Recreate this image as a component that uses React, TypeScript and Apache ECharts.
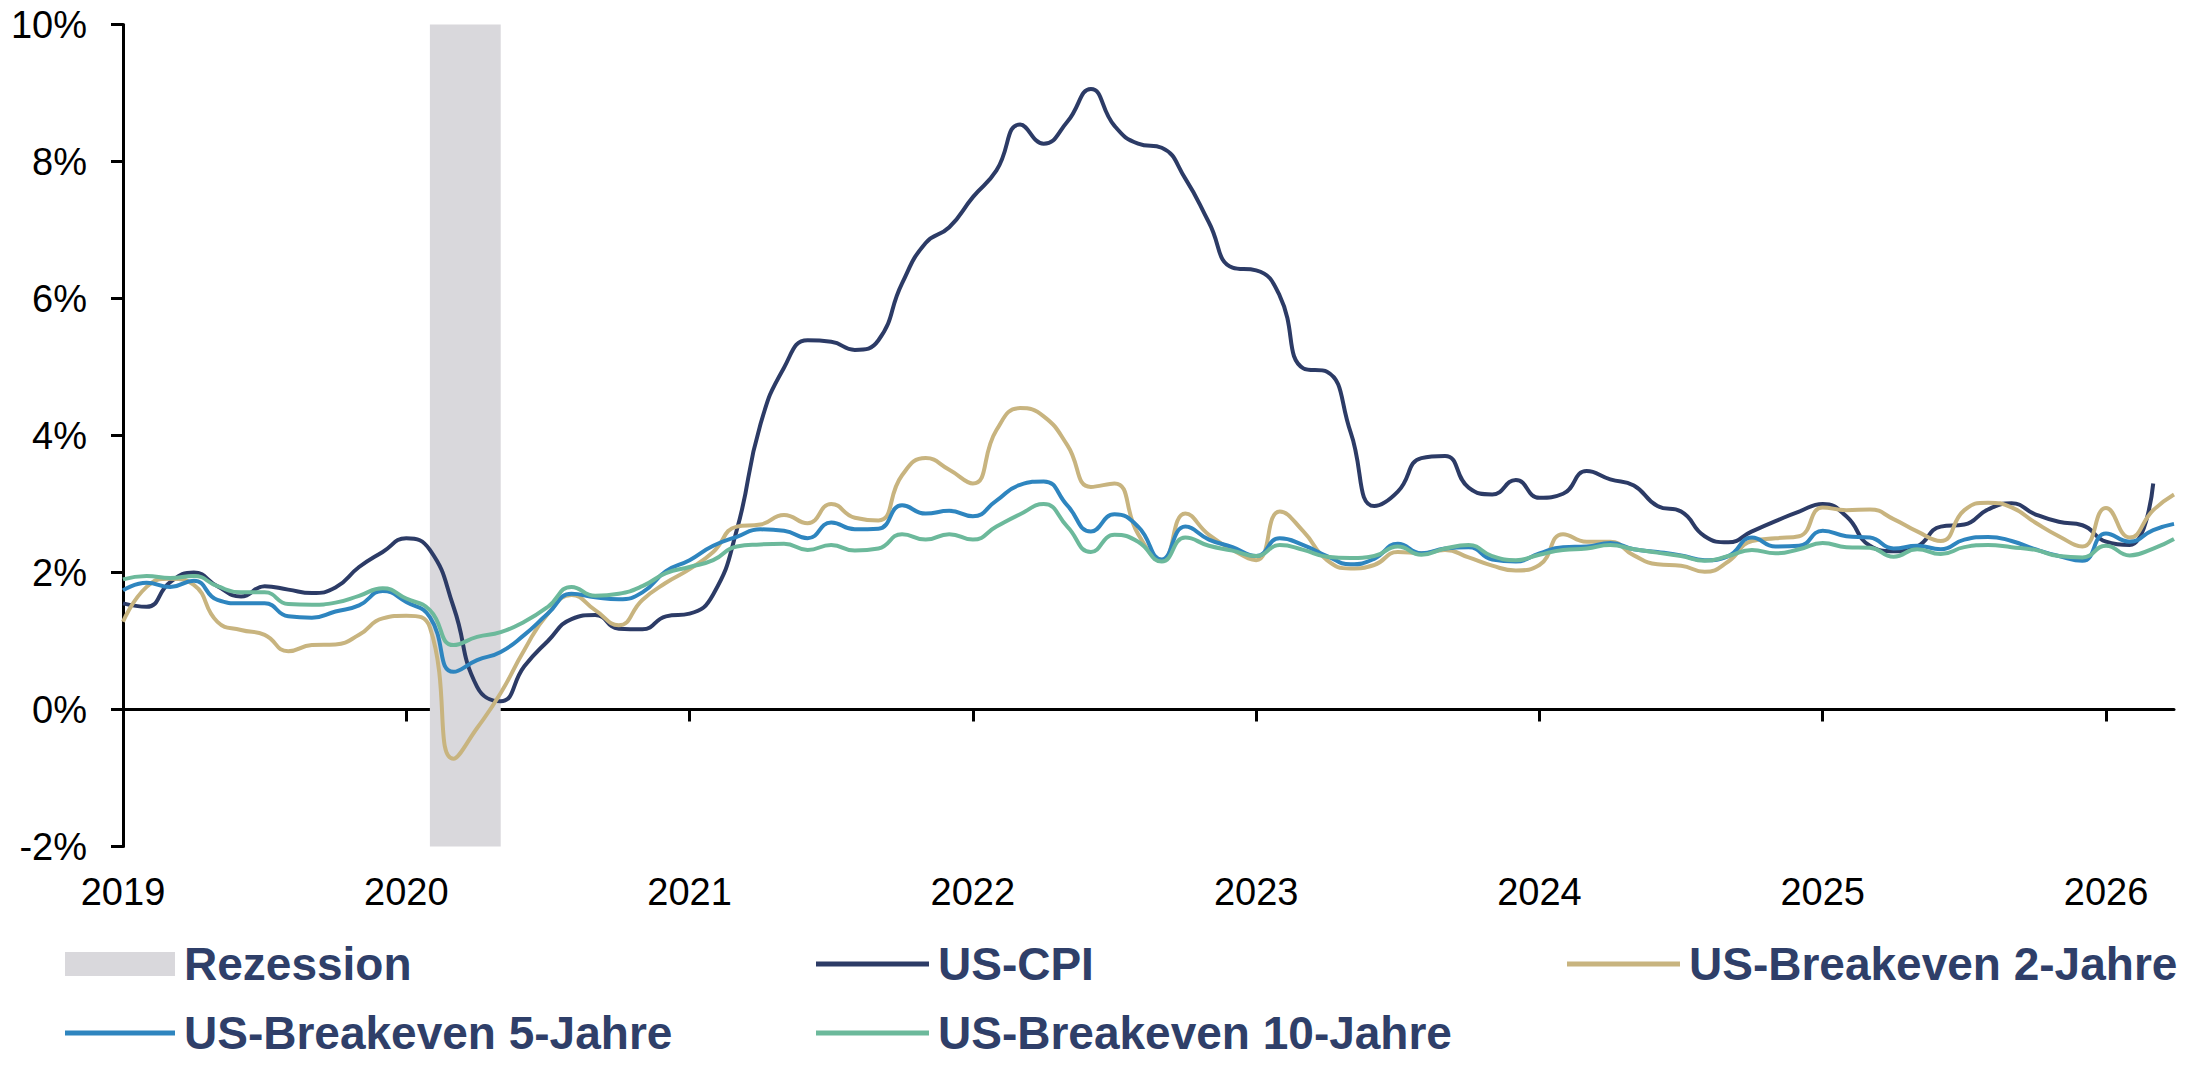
import { useEffect, useRef } from 'react';
import * as echarts from 'echarts';

const FONT = '"Liberation Sans", Arial, Helvetica, sans-serif';

// Colours
const NAVY = '#2C3B66';
const TAN = '#C8B47F';
const BLUE = '#2E85BF';
const GREEN = '#6CB99B';
const RECESSION_GREY = '#D9D8DC';
const LEGEND_TEXT = '#2F3F69';

// Axes
const firstYear = 2019;
const axisEnd = 2026.24;
const yearLabels = [2019, 2020, 2021, 2022, 2023, 2024, 2025, 2026];
const yearTicks = [2020, 2021, 2022, 2023, 2024, 2025, 2026];
const yMin = -2;
const yMax = 10;
const yStep = 2;

// Recession: February to April 2020
const recessionStart = 2020 + 1 / 12;
const recessionEnd = 2020 + 4 / 12;

// Monthly values in % y/y, starting January 2019
const cpi = [
  1.55, 1.5, 1.86, 2.0, 1.8, 1.65, 1.8, 1.75, 1.7, 1.78, 2.08, 2.3, // 2019
  2.5, 2.33, 1.5, 0.33, 0.12, 0.63, 1.0, 1.32, 1.38, 1.18, 1.17, 1.36, // 2020
  1.4, 1.68, 2.62, 4.16, 4.99, 5.39, 5.37, 5.25, 5.39, 6.22, 6.81, 7.04, // 2021
  7.48, 7.87, 8.54, 8.26, 8.58, 9.06, 8.52, 8.26, 8.2, 7.75, 7.11, 6.45, // 2022
  6.41, 6.04, 4.98, 4.93, 4.05, 2.97, 3.18, 3.67, 3.7, 3.24, 3.14, 3.35, // 2023
  3.09, 3.15, 3.48, 3.36, 3.27, 2.97, 2.89, 2.53, 2.44, 2.6, 2.75, 2.89, // 2024
  3.0, 2.82, 2.39, 2.31, 2.38, 2.67, 2.7, 2.92, 3.01, 2.85, 2.74, 2.69, // 2025
  2.45, 2.4, 3.3, // 2026
];

const breakeven2 = [
  1.28, 1.79, 1.91, 1.82, 1.28, 1.16, 1.09, 0.85, 0.94, 0.95, 1.09, 1.33,
  1.37, 1.2, -0.72, -0.27, 0.24, 0.87, 1.4, 1.67, 1.45, 1.23, 1.6, 1.85,
  2.05, 2.3, 2.67, 2.7, 2.84, 2.72, 3.0, 2.8, 2.76, 3.42, 3.67, 3.5,
  3.3, 4.08, 4.4, 4.28, 3.86, 3.25, 3.3, 2.56, 2.18, 2.86, 2.55, 2.33,
  2.18, 2.89, 2.6, 2.18, 2.06, 2.11, 2.3, 2.28, 2.33, 2.22, 2.1, 2.03,
  2.11, 2.56, 2.45, 2.45, 2.25, 2.12, 2.1, 2.01, 2.16, 2.46, 2.5, 2.53,
  2.95, 2.91, 2.92, 2.78, 2.6, 2.46, 2.91, 3.02, 2.95, 2.73, 2.53, 2.38,
  2.94, 2.51, 2.91,
];

const breakeven5 = [
  1.74, 1.85, 1.79, 1.88, 1.6, 1.55, 1.55, 1.36, 1.34, 1.43, 1.52, 1.73,
  1.57, 1.35, 0.55, 0.72, 0.84, 1.09, 1.4, 1.69, 1.64, 1.61, 1.71, 2.02,
  2.18, 2.39, 2.52, 2.63, 2.61, 2.5, 2.73, 2.63, 2.64, 2.98, 2.86, 2.9,
  2.82, 3.05, 3.28, 3.33, 2.98, 2.6, 2.85, 2.67, 2.19, 2.67, 2.48, 2.37,
  2.24, 2.5, 2.4, 2.24, 2.12, 2.2, 2.42, 2.28, 2.35, 2.37, 2.19, 2.16,
  2.28, 2.37, 2.38, 2.43, 2.34, 2.3, 2.25, 2.18, 2.24, 2.51, 2.38, 2.39,
  2.61, 2.53, 2.51, 2.35, 2.39, 2.34, 2.48, 2.52, 2.46, 2.34, 2.24, 2.17,
  2.57, 2.45, 2.62,
];

const breakeven10 = [
  1.9, 1.95, 1.92, 1.95, 1.8, 1.71, 1.71, 1.54, 1.53, 1.56, 1.66, 1.77,
  1.62, 1.45, 0.94, 1.06, 1.13, 1.28, 1.5, 1.79, 1.66, 1.69, 1.8, 1.99,
  2.08, 2.18, 2.38, 2.41, 2.42, 2.33, 2.4, 2.32, 2.35, 2.56, 2.48, 2.56,
  2.48, 2.67, 2.85, 3.0, 2.67, 2.3, 2.55, 2.45, 2.16, 2.51, 2.39, 2.32,
  2.24, 2.4, 2.33, 2.23, 2.21, 2.24, 2.38, 2.26, 2.35, 2.4, 2.24, 2.18,
  2.26, 2.33, 2.35, 2.4, 2.34, 2.29, 2.24, 2.17, 2.24, 2.33, 2.28, 2.34,
  2.43, 2.37, 2.36, 2.23, 2.34, 2.27, 2.37, 2.4, 2.37, 2.33, 2.24, 2.22,
  2.39, 2.25, 2.35,
];

// Latest market readings, plotted at the right end of the axis
const breakeven2Latest = 3.14;
const breakeven5Latest = 2.71;
const breakeven10Latest = 2.49;

const monthly = (values: number[]) =>
  values.map((v, i) => [firstYear + i / 12, v]);

const withLatest = (values: number[], latest: number) => [
  ...monthly(values),
  [axisEnd, latest],
];

const lineSeries = (name: string, color: string, data: number[][]) => ({
  name,
  type: 'line',
  data,
  smooth: 0.5,
  showSymbol: false,
  symbol: 'none',
  clip: false,
  itemStyle: { color },
  lineStyle: { color, width: 4 },
  emphasis: { disabled: true },
});

const legendEntry = (
  name: string,
  left: number,
  top: number,
  icon: string,
  width: number,
  height: number,
) => ({
  data: [name],
  left,
  top,
  icon,
  itemWidth: width,
  itemHeight: height,
  padding: 0,
  selectedMode: false,
  textStyle: {
    color: LEGEND_TEXT,
    fontFamily: FONT,
    fontSize: 46,
    fontWeight: 'bold',
    lineHeight: 52,
    padding: [0, 0, 0, 4],
  },
});

export default function App() {
  const ref = useRef<HTMLDivElement>(null);

  useEffect(() => {
    if (!ref.current) return;
    const chart = echarts.init(ref.current, null, { renderer: 'svg' });

    const axisStroke = { color: '#000', width: 3 };
    const row1 = 938;
    const row2 = 1007;

    chart.setOption({
      animation: false,
      backgroundColor: '#fff',
      textStyle: { fontFamily: FONT },
      grid: {
        left: 123,
        top: 24.5,
        width: 2051,
        height: 822,
        containLabel: false,
        outerBoundsMode: 'none',
      },
      legend: [
        legendEntry('Rezession', 65, row1, 'rect', 110, 24),
        legendEntry('US-CPI', 816, row1, 'rect', 113, 5),
        legendEntry('US-Breakeven 2-Jahre', 1567, row1, 'rect', 113, 5),
        legendEntry('US-Breakeven 5-Jahre', 65, row2, 'rect', 110, 5),
        legendEntry('US-Breakeven 10-Jahre', 816, row2, 'rect', 113, 5),
      ],
      xAxis: [
        {
          // zero line with year ticks
          type: 'value',
          min: firstYear,
          max: axisEnd,
          interval: 1,
          position: 'bottom',
          axisLine: { show: true, onZero: true, lineStyle: axisStroke },
          axisTick: {
            show: true,
            length: 12,
            lineStyle: axisStroke,
            customValues: yearTicks,
          },
          axisLabel: { show: false },
          splitLine: { show: false },
        },
        {
          // year labels along the bottom edge
          type: 'value',
          min: firstYear,
          max: axisEnd,
          interval: 1,
          position: 'bottom',
          axisLine: { show: false, onZero: false },
          axisTick: { show: false },
          axisLabel: {
            show: true,
            customValues: yearLabels,
            formatter: (v: number) => String(Math.round(v)),
            fontSize: 38,
            fontFamily: FONT,
            color: '#000',
            margin: 26,
          },
          splitLine: { show: false },
        },
      ],
      yAxis: {
        type: 'value',
        min: yMin,
        max: yMax,
        interval: yStep,
        axisLine: { show: true, onZero: false, lineStyle: axisStroke },
        axisTick: { show: true, length: 12, lineStyle: axisStroke },
        axisLabel: {
          formatter: '{value}%',
          fontSize: 38,
          fontFamily: FONT,
          color: '#000',
          margin: 36,
        },
        splitLine: { show: false },
      },
      series: [
        {
          name: 'Rezession',
          type: 'line',
          data: [],
          itemStyle: { color: RECESSION_GREY },
          lineStyle: { color: RECESSION_GREY },
          markArea: {
            silent: true,
            itemStyle: { color: RECESSION_GREY, opacity: 1 },
            data: [
              [
                { coord: [recessionStart, yMin] },
                { coord: [recessionEnd, yMax] },
              ],
            ],
          },
        },
        lineSeries('US-CPI', NAVY, monthly(cpi)),
        lineSeries('US-Breakeven 2-Jahre', TAN, withLatest(breakeven2, breakeven2Latest)),
        lineSeries('US-Breakeven 5-Jahre', BLUE, withLatest(breakeven5, breakeven5Latest)),
        lineSeries('US-Breakeven 10-Jahre', GREEN, withLatest(breakeven10, breakeven10Latest)),
      ],
    });

    return () => chart.dispose();
  }, []);

  return (
    <div
      ref={ref}
      style={{ position: 'absolute', left: 0, top: 0, width: 2194, height: 1066 }}
    />
  );
}
